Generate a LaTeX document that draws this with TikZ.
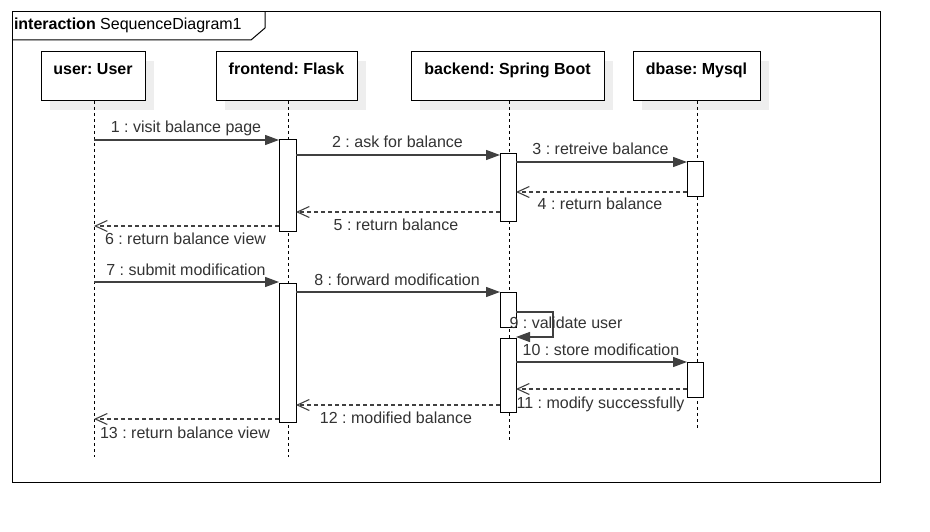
\documentclass[tikz,border=0pt]{standalone}
\usepackage{fontspec}
\setmainfont{Liberation Sans}
\usetikzlibrary{arrows.meta}
\definecolor{ln}{HTML}{404040}
\definecolor{tx}{HTML}{333333}
\definecolor{sh}{HTML}{EEEEEE}
\frenchspacing
\begin{document}
\frenchspacing
\begin{tikzpicture}[x=1pt,y=-1pt,
  every node/.style={font=\fontsize{16}{19}\selectfont\frenchspacing, inner sep=0pt, outer sep=0pt},
  headbox/.style={draw=black, line width=1pt, fill=white, rectangle, minimum height=49pt, anchor=north west},
  headtxt/.style={anchor=base, font=\fontsize{16}{19}\selectfont\bfseries\frenchspacing, text=black},
  shadow/.style={fill=sh, draw=none},
  life/.style={draw=black, line width=1pt, dash pattern=on 3pt off 3pt},
  actbox/.style={draw=black, line width=1pt, fill=white, rectangle, anchor=north west},
  msg/.style={draw=ln, line width=1.3pt, -{Triangle[length=14pt,width=10pt]}},
  ret/.style={draw=ln, line width=1.1pt, dash pattern=on 4pt off 3pt, -{Straight Barb[length=12pt,width=11pt]}},
  lbl/.style={anchor=base, text=tx}
]
\useasboundingbox (0,0) rectangle (930,532);
\fill[white] (0,0) rectangle (930,532);

% frame
\draw[black, line width=1pt] (12,12) rectangle (880,482);
\draw[black, line width=1pt] (12,40) -- (251,40) -- (265,28) -- (265,12);
\node[anchor=base west, text=black] (frm) at (14,30) {\textbf{interaction} SequenceDiagram1};

% heads with shadows
\fill[shadow] (50,61) rectangle (154,110);
\fill[shadow] (225,61) rectangle (366,110);
\fill[shadow] (420,61) rectangle (613,110);
\fill[shadow] (642,61) rectangle (769,110);
\node[headbox, minimum width=104pt] (user) at (41,52) {};
\node[headbox, minimum width=141pt] (front) at (216,52) {};
\node[headbox, minimum width=193pt] (back) at (411,52) {};
\node[headbox, minimum width=127pt] (db) at (633,52) {};
\node[headtxt] (userT) at (93,75) {user: User};
\node[headtxt] (frontT) at (286.5,75) {frontend: Flask};
\node[headtxt] (backT) at (507.5,75) {backend: Spring Boot};
\node[headtxt] (dbT) at (696.5,75) {dbase: Mysql};

% lifelines
\coordinate (uE) at (94,457);
\coordinate (fE) at (288,457);
\coordinate (bE) at (509,441);
\coordinate (dE) at (697,428);
\draw[life] (user.south -| uE) -- (uE);
\draw[life] (front.south -| fE) -- (fE);
\draw[life] (back.south -| bE) -- (bE);
\draw[life] (db.south -| dE) -- (dE);

% activations
\node[actbox, minimum width=17pt, minimum height=92pt] (fa1) at (279,140) {};
\node[actbox, minimum width=16pt, minimum height=68pt] (ba1) at (500,154) {};
\node[actbox, minimum width=16pt, minimum height=35pt] (da1) at (687,162) {};
\node[actbox, minimum width=17pt, minimum height=139pt] (fa2) at (279,283) {};
\node[actbox, minimum width=16pt, minimum height=35pt] (ba2) at (500,292) {};
\node[actbox, minimum width=16pt, minimum height=74pt] (ba3) at (500,338) {};
\node[actbox, minimum width=16pt, minimum height=35pt] (da2) at (687,362) {};

% message endpoints
\coordinate (m1a) at (94,140);  \coordinate (m1b) at (279,140);
\coordinate (m2a) at (296,155); \coordinate (m2b) at (500,155);
\coordinate (m3a) at (516,162); \coordinate (m3b) at (687,162);
\coordinate (m4a) at (687,192); \coordinate (m4b) at (516,192);
\coordinate (m5a) at (500,212); \coordinate (m5b) at (296,212);
\coordinate (m6a) at (279,226); \coordinate (m6b) at (94,226);
\coordinate (m7a) at (94,282);  \coordinate (m7b) at (279,282);
\coordinate (m8a) at (296,292); \coordinate (m8b) at (500,292);
\coordinate (m9a) at (516,312); \coordinate (m9b) at (553,312);
\coordinate (m9c) at (553,337); \coordinate (m9d) at (516,337);
\coordinate (m10a) at (516,362); \coordinate (m10b) at (687,362);
\coordinate (m11a) at (687,389); \coordinate (m11b) at (516,389);
\coordinate (m12a) at (500,405); \coordinate (m12b) at (296,405);
\coordinate (m13a) at (279,419); \coordinate (m13b) at (94,419);

\draw[msg] (m1a) -- (m1b);
\draw[msg] (m2a) -- (m2b);
\draw[msg] (m3a) -- (m3b);
\draw[ret] (m4a) -- (m4b);
\draw[ret] (m5a) -- (m5b);
\draw[ret] (m6a) -- (m6b);
\draw[msg] (m7a) -- (m7b);
\draw[msg] (m8a) -- (m8b);
\draw[msg] (m9a) -- (m9b) -- (m9c) -- (m9d);
\draw[msg] (m10a) -- (m10b);
\draw[ret] (m11a) -- (m11b);
\draw[ret] (m12a) -- (m12b);
\draw[ret] (m13a) -- (m13b);

% labels
\node[lbl] (l1) at (186,133) {1 : visit balance page};
\node[lbl] (l2) at (397.5,148) {2 : ask for balance};
\node[lbl] (l3) at (600.5,155) {3 : retreive balance};
\node[lbl] (l4) at (600,210) {4 : return balance};
\node[lbl] (l5) at (396,230) {5 : return balance};
\node[lbl] (l6) at (185.5,244) {6 : return balance view};
\node[lbl] (l7) at (186,275) {7 : submit modification};
\node[lbl] (l8) at (397,285) {8 : forward modification};
\node[lbl] (l9) at (566,328) {9 : validate user};
\node[lbl] (l10) at (601,355) {10 : store modification};
\node[lbl] (l11) at (600.5,408) {11 : modify successfully};
\node[lbl] (l12) at (396,423) {12 : modified balance};
\node[lbl] (l13) at (185,438) {13 : return balance view};
\end{tikzpicture}
\end{document}
